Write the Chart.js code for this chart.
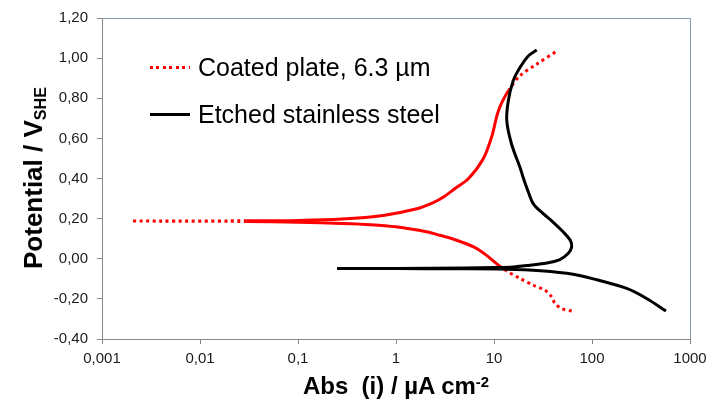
<!DOCTYPE html>
<html>
<head>
<meta charset="utf-8">
<script src="https://cdn.jsdelivr.net/npm/chart.js@4.4.1/dist/chart.umd.min.js"></script>
<style>
    body { margin: 0; background: #fff; }
    #wrap {
        position: relative;
        width: 722px;
        height: 401px;
        font-family: 'Liberation Sans', Arial, sans-serif;
        color: #000;
    }
    #plot { position: absolute; left: 0; top: 0; }
    .axis-title {
        position: absolute;
        font-weight: bold;
        font-size: 24px;
        line-height: 1;
        white-space: nowrap;
    }
    #ytitle { left: 33px; top: 178px; font-size: 26px; transform: translate(-50%, -50%) rotate(-90deg); }
    #xtitle { left: 396px; top: 374px; transform: translateX(-50%); }
    .axis-title sub { font-size: 0.62em; vertical-align: baseline; position: relative; top: 0.22em; }
    .axis-title sup { font-size: 0.62em; vertical-align: baseline; position: relative; top: -0.5em; }
    #legend { position: absolute; left: 150px; top: 55px; font-size: 25px; line-height: 1; }
    .legend-row { display: flex; align-items: center; height: 24px; margin-bottom: 23px; }
    .legend-line { width: 40px; height: 3px; margin-right: 8px; }
</style>
</head>
<body>
<div id="wrap">
    <canvas id="plot" width="722" height="401"></canvas>
    <div id="legend"></div>
    <div id="ytitle" class="axis-title">Potential / V<sub>SHE</sub></div>
    <div id="xtitle" class="axis-title">Abs&nbsp; (i) / µA cm<sup>-2</sup></div>
</div>
<script>
const FONT = "'Liberation Sans', Arial, sans-serif";

const xTickValues = [0.001, 0.01, 0.1, 1, 10, 100, 1000];
const xTickLabels = ['0,001', '0,01', '0,1', '1', '10', '100', '1000'];
const yTickValues = [-0.4, -0.2, 0, 0.2, 0.4, 0.6, 0.8, 1.0, 1.2];
const yTickLabels = ['-0,40', '-0,20', '0,00', '0,20', '0,40', '0,60', '0,80', '1,00', '1,20'];

// coated plate: cathodic branch up to Ecorr, then the anodic branch (µA cm-2 / V)
const coatedCurrent = [
    62, 49, 41.9, 38.8, 33.1, 25.2, 18.4, 13.5, 10.6, 8.4, 6.2, 4.0, 2.8, 2.1, 1.0, 0.55, 0.28, 0.1, 0.03, 0.002,
    0.03, 0.1, 0.28, 0.74, 1.63, 2.4, 3.0, 4.0, 5.5, 7.8, 9.5, 11.1, 14, 18.4, 27.3, 44
];
const coatedPotential = [
    -0.261, -0.248, -0.223, -0.19, -0.157, -0.132, -0.098, -0.061, -0.024, 0.017, 0.059, 0.095, 0.117, 0.133, 0.159, 0.170, 0.176, 0.182, 0.186, 0.188,
    0.189, 0.191, 0.198, 0.216, 0.249, 0.28, 0.305, 0.35, 0.40, 0.50, 0.61, 0.738, 0.837, 0.912, 0.97, 1.036
];

// etched stainless steel
const etchedCurrent = [
    569, 361, 226, 112, 64, 30, 13.5, 4, 1, 0.25,
    1, 5, 10, 15.7, 23.3, 34.5, 47, 57, 62, 60, 51, 40, 31.8, 25.2, 22.5, 20, 18.4, 15.1, 13.5, 14, 15.7, 18.4, 22.4, 27.3
];
const etchedPotential = [
    -0.261, -0.198, -0.148, -0.105, -0.077, -0.060, -0.052, -0.050, -0.049, -0.049,
    -0.048, -0.046, -0.044, -0.041, -0.032, -0.021, -0.004, 0.026, 0.059, 0.092, 0.133, 0.183, 0.225, 0.274, 0.33, 0.40, 0.456, 0.572, 0.688, 0.788, 0.887, 0.953, 1.011, 1.04
];

// the measured points crowd together in this current range, so the dotted series reads as solid there
const DENSE_MIN = 0.03;
const DENSE_MAX = 15;
const DOTS = [3, 3.5];

function toPoints(xs, ys) {
    return xs.map((x, i) => ({ x, y: ys[i] }));
}

function coatedDash(ctx) {
    const a = coatedCurrent[ctx.p0DataIndex];
    const b = coatedCurrent[ctx.p1DataIndex];
    const dense = a >= DENSE_MIN && b >= DENSE_MIN && a <= DENSE_MAX && b <= DENSE_MAX;
    return dense ? [] : DOTS;
}

const plotFrame = {
    id: 'plotFrame',
    beforeDatasetsDraw(chart) {
        const { ctx, chartArea: a } = chart;
        ctx.save();
        ctx.strokeStyle = '#8497b0';
        ctx.lineWidth = 1;
        ctx.beginPath();
        ctx.moveTo(a.left, a.top + 0.5);
        ctx.lineTo(a.right + 0.5, a.top + 0.5);
        ctx.lineTo(a.right + 0.5, a.bottom);
        ctx.stroke();
        ctx.restore();
    }
};

Chart.defaults.font.family = FONT;

const chart = new Chart(document.getElementById('plot'), {
    type: 'scatter',
    data: {
        datasets: [
            {
                label: 'Coated plate, 6.3 µm',
                data: toPoints(coatedCurrent, coatedPotential),
                showLine: true,
                borderColor: '#ff0000',
                borderWidth: 3,
                borderDash: DOTS,
                pointRadius: 0,
                tension: 0.3,
                order: 2,
                segment: { borderDash: coatedDash }
            },
            {
                label: 'Etched stainless steel',
                data: toPoints(etchedCurrent, etchedPotential),
                showLine: true,
                borderColor: '#000000',
                borderWidth: 3,
                pointRadius: 0,
                tension: 0.35,
                order: 1
            }
        ]
    },
    options: {
        responsive: false,
        animation: false,
        devicePixelRatio: 1,
        layout: { padding: { left: 0, right: 32, top: 17, bottom: 32 } },
        plugins: {
            legend: { display: false },
            tooltip: { enabled: false }
        },
        scales: {
            x: {
                type: 'logarithmic',
                min: 0.001,
                max: 1000,
                afterBuildTicks: (scale) => { scale.ticks = xTickValues.map(v => ({ value: v })); },
                afterFit: (scale) => { scale.height = 30; },
                ticks: {
                    callback: (v, i) => xTickLabels[i],
                    color: '#1a1a1a',
                    font: { size: 15 },
                    padding: 6,
                    maxRotation: 0,
                    autoSkip: false
                },
                grid: { drawOnChartArea: false, tickLength: 5, color: '#868686' },
                border: { color: '#868686' }
            },
            y: {
                type: 'linear',
                min: -0.4,
                max: 1.2,
                afterBuildTicks: (scale) => { scale.ticks = yTickValues.map(v => ({ value: v })); },
                afterFit: (scale) => { scale.width = 102; },
                ticks: {
                    callback: (v, i) => yTickLabels[i],
                    color: '#1a1a1a',
                    font: { size: 15 },
                    padding: 9
                },
                grid: { drawOnChartArea: false, tickLength: 5, color: '#868686' },
                border: { color: '#868686' }
            }
        }
    },
    plugins: [plotFrame]
});

// legend sits inside the plot, built from the dataset styles
function legendStroke(ds) {
    if (!ds.borderDash) return `background: ${ds.borderColor}`;
    const [on, off] = ds.borderDash;
    return `background: repeating-linear-gradient(90deg, ${ds.borderColor} 0 ${on}px, transparent ${on}px ${on + off}px)`;
}

const legend = document.getElementById('legend');
legend.innerHTML = chart.data.datasets.map(ds => `
    <div class="legend-row">
        <span class="legend-line" style="${legendStroke(ds)}"></span>
        <span>${ds.label}</span>
    </div>
`).join('');
</script>
</body>
</html>
